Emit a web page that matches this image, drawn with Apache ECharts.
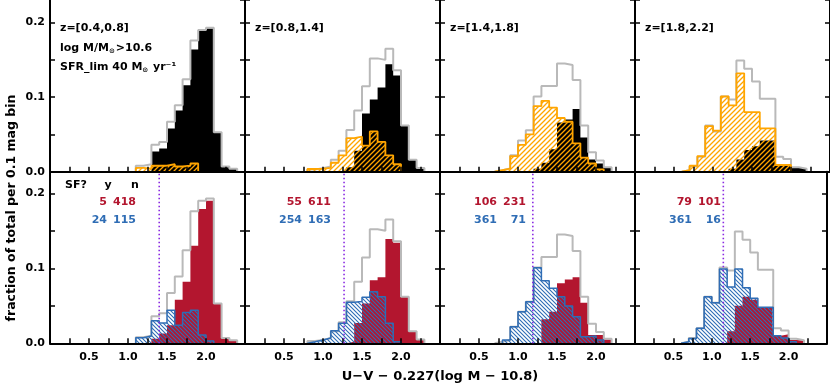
<!DOCTYPE html>
<html>
<head>
<meta charset="utf-8">
<script src="https://cdn.jsdelivr.net/npm/echarts@6/dist/echarts.min.js"></script>
<style>
html, body { margin: 0; padding: 0; background: #fff; }
#main { width: 830px; height: 384px; }
</style>
</head>
<body>
<div id="main"></div>
<script>
// left edges of the 0.1 mag bins (0.6 ... 2.4)
var bins = [0.6, 0.7, 0.8, 0.9, 1.0, 1.1, 1.2, 1.3, 1.4, 1.5, 1.6, 1.7, 1.8, 1.9, 2.0, 2.1, 2.2, 2.3, 2.4];

var zLabels = ['z=[0.4,0.8]', 'z=[0.8,1.4]', 'z=[1.4,1.8]', 'z=[1.8,2.2]'];
var xTickLabels = [0.5, 1.0, 1.5, 2.0];
var yTickLabels = [0.0, 0.1, 0.2];

// grey: all galaxies
var total1 = [0, 0, 0, 0, 0, 0.008, 0.010, 0.036, 0.040, 0.067, 0.089, 0.124, 0.176, 0.190, 0.193, 0.053, 0.007, 0.004, 0];
var total2 = [0, 0, 0.003, 0.0045, 0.007, 0.016, 0.028, 0.056, 0.082, 0.1145, 0.152, 0.150, 0.165, 0.136, 0.062, 0.016, 0.005, 0, 0];
var total3 = [0, 0.002, 0.0044, 0.022, 0.042, 0.0555, 0.101, 0.115, 0.115, 0.145, 0.143, 0.123, 0.062, 0.026, 0.015, 0.006, 0, 0, 0];
var total4 = [0.002, 0.007, 0.020, 0.062, 0.054, 0.101, 0.097, 0.149, 0.138, 0.121, 0.098, 0.098, 0.020, 0.017, 0.006, 0.004, 0, 0, 0];

// top row: black = quiescent, orange = above SFR limit
var black1 = [0, 0, 0, 0, 0, 0, 0, 0.027, 0.031, 0.058, 0.082, 0.116, 0.164, 0.189, 0.192, 0.053, 0.007, 0.004, 0];
var black2 = [0, 0, 0, 0, 0, 0, 0.002, 0.006, 0.028, 0.078, 0.097, 0.113, 0.144, 0.129, 0.062, 0.016, 0.005, 0, 0];
var black3 = [0, 0, 0, 0, 0, 0, 0.004, 0.012, 0.030, 0.066, 0.070, 0.084, 0.046, 0.0165, 0.011, 0.006, 0, 0, 0];
var black4 = [0, 0, 0, 0, 0, 0, 0.004, 0.0165, 0.029, 0.034, 0.042, 0.042, 0.010, 0.008, 0.005, 0.005, 0, 0, 0];

var orange1 = [0, 0, 0, 0, 0, 0.005, 0.004, 0.008, 0.008, 0.010, 0.007, 0.008, 0.011, 0, 0, 0, 0, 0, 0];
var orange2 = [0, 0, 0.0036, 0.004, 0.005, 0.012, 0.022, 0.045, 0.047, 0.035, 0.054, 0.040, 0.022, 0.010, 0, 0, 0, 0, 0];
var orange3 = [0, 0.002, 0.004, 0.021, 0.036, 0.050, 0.088, 0.095, 0.086, 0.072, 0.067, 0.038, 0.019, 0.011, 0.003, 0, 0, 0, 0];
var orange4 = [0.002, 0.008, 0.021, 0.061, 0.055, 0.101, 0.089, 0.132, 0.080, 0.080, 0.058, 0.058, 0.009, 0.009, 0, 0, 0, 0, 0];

// bottom row: red = UVJ quiescent, blue = UVJ star forming
var red1 = [0, 0, 0, 0, 0, 0, 0, 0.006, 0.013, 0.024, 0.058, 0.082, 0.130, 0.179, 0.190, 0.053, 0.007, 0.004, 0];
var red2 = [0, 0, 0, 0, 0, 0, 0, 0.002, 0.027, 0.053, 0.084, 0.088, 0.139, 0.134, 0.062, 0.016, 0.005, 0, 0];
var red3 = [0, 0, 0, 0, 0, 0, 0, 0.032, 0.042, 0.080, 0.085, 0.088, 0.054, 0.011, 0.011, 0.005, 0, 0, 0];
var red4 = [0, 0, 0, 0, 0, 0, 0.016, 0.050, 0.062, 0.058, 0.048, 0.048, 0.010, 0.012, 0.0045, 0.0036, 0, 0, 0];

var blue1 = [0, 0, 0, 0, 0, 0.0075, 0.0097, 0.030, 0.027, 0.044, 0.024, 0.041, 0.044, 0.011, 0.003, 0, 0, 0, 0];
var blue2 = [0, 0, 0.002, 0.0044, 0.007, 0.0168, 0.0267, 0.0547, 0.0556, 0.0613, 0.0689, 0.0622, 0.0267, 0.002, 0, 0, 0, 0, 0];
var blue3 = [0, 0, 0.0044, 0.022, 0.042, 0.0555, 0.1008, 0.0835, 0.0733, 0.0622, 0.0497, 0.0355, 0.0089, 0.0097, 0.0044, 0, 0, 0, 0];
var blue4 = [0.002, 0.0065, 0.020, 0.062, 0.054, 0.099, 0.075, 0.099, 0.074, 0.060, 0.048, 0.048, 0.010, 0.007, 0.002, 0, 0, 0, 0];

// dotted colour cut per redshift bin
var cutUV = [1.40, 1.27, 1.19, 1.15];

// SF? y / n counts
var redY = [5, 55, 106, 79];
var redN = [418, 611, 231, 101];
var blueY = [24, 254, 361, 361];
var blueN = [115, 163, 71, 16];

var totals = [total1, total2, total3, total4];
var blacks = [black1, black2, black3, black4];
var oranges = [orange1, orange2, orange3, orange4];
var reds = [red1, red2, red3, red4];
var blues = [blue1, blue2, blue3, blue4];

var FONT = '"DejaVu Sans", sans-serif';
var GREY = '#b9b9b9', ORANGE = '#ffa500', RED = '#b3162f', BLUE = '#2f6db5', PURPLE = '#8a2be2';

var panelLeft = 50, panelW = 195;
var rowTop = [-1, 171.7], rowH = [172.7, 171.6], rowMax = [0.2303, 0.2288];

function hatch(color, size, dir, lw) {
	var c = document.createElement('canvas');
	c.width = size; c.height = size;
	var g = c.getContext('2d');
	g.strokeStyle = color;
	g.lineWidth = lw;
	g.beginPath();
	if (dir > 0) {
		g.moveTo(-1, size + 1); g.lineTo(size + 1, -1);
		g.moveTo(-1, 1); g.lineTo(1, -1);
		g.moveTo(size - 1, size + 1); g.lineTo(size + 1, size - 1);
	} else {
		g.moveTo(-1, -1); g.lineTo(size + 1, size + 1);
		g.moveTo(size - 1, -1); g.lineTo(size + 1, 1);
		g.moveTo(-1, size - 1); g.lineTo(1, size + 1);
	}
	g.stroke();
	return { image: c, repeat: 'repeat' };
}

// outline of a histogram, from first to last non empty bin
function steps(vals) {
	var a = 0, b = vals.length - 1;
	while (a < b && !vals[a]) a++;
	while (b > a && !vals[b]) b--;
	var pts = [[bins[a], 0]];
	for (var i = a; i <= b; i++) {
		pts.push([bins[i], vals[i]]);
		pts.push([bins[i] + 0.1, vals[i]]);
	}
	pts.push([bins[b] + 0.1, 0]);
	return pts;
}

function histo(gi, vals, line, area, z) {
	var s = {
		type: 'line',
		xAxisIndex: gi,
		yAxisIndex: gi * 2,
		data: steps(vals),
		symbol: 'none',
		silent: true,
		z: z,
		lineStyle: line
	};
	if (area) s.areaStyle = area;
	return s;
}

function isOne(v, list) {
	for (var i = 0; i < list.length; i++) {
		if (Math.abs(v - list[i]) < 1e-6) return true;
	}
	return false;
}

var orangeHatch = hatch(ORANGE, 5, 1, 1.3);
var blueHatch = hatch(BLUE, 4, -1, 1.1);

var grids = [], xAxes = [], yAxes = [], series = [];
for (var r = 0; r < 2; r++) {
	for (var c = 0; c < 4; c++) {
		var gi = r * 4 + c;
		grids.push({ left: panelLeft + c * panelW, top: rowTop[r], width: panelW, height: rowH[r] });
		xAxes.push({
			type: 'value', gridIndex: gi, min: 0, max: 2.5, interval: 0.25, z: 5,
			axisLine: { onZero: false, lineStyle: { color: '#000', width: 2 } },
			axisTick: { inside: true, length: 5, lineStyle: { color: '#000', width: 1.5 } },
			axisLabel: {
				show: r == 1, margin: 8, color: '#000', fontSize: 11, fontWeight: 'bold', fontFamily: FONT,
				formatter: function (v) { return isOne(v, xTickLabels) ? v.toFixed(1) : ''; }
			},
			splitLine: { show: false }
		});
		yAxes.push({
			type: 'value', gridIndex: gi, min: 0, max: rowMax[r], interval: 0.05, z: 5,
			axisLine: { show: true, lineStyle: { color: '#000', width: 2 } },
			axisTick: { show: true, inside: true, length: 5, lineStyle: { color: '#000', width: 1.5 } },
			axisLabel: {
				show: c == 0, margin: 5, color: '#000', fontSize: 11, fontWeight: 'bold', fontFamily: FONT,
				showMinLabel: true, showMaxLabel: false,
				formatter: function (v) { return isOne(v, yTickLabels) ? v.toFixed(1) : ''; }
			},
			splitLine: { show: false }
		});
		yAxes.push({
			type: 'value', gridIndex: gi, min: 0, max: rowMax[r], interval: 0.05, position: 'right', z: 5,
			axisLine: { show: true, lineStyle: { color: '#000', width: 2 } },
			axisTick: { show: true, inside: true, length: 5, lineStyle: { color: '#000', width: 1.5 } },
			axisLabel: { show: false },
			splitLine: { show: false }
		});

		if (r == 0) {
			series.push(histo(gi, blacks[c], { width: 0, color: '#000' }, { color: '#000', opacity: 1 }, 2));
			series.push(histo(gi, totals[c], { width: 2, color: GREY }, null, 3));
			series.push(histo(gi, oranges[c], { width: 1.8, color: ORANGE }, { color: orangeHatch, opacity: 1 }, 4));
		} else {
			series.push(histo(gi, reds[c], { width: 0, color: RED }, { color: RED, opacity: 1 }, 2));
			series.push(histo(gi, totals[c], { width: 2, color: GREY }, null, 3));
			series.push(histo(gi, blues[c], { width: 1.5, color: BLUE }, { color: blueHatch, opacity: 1 }, 4));
			series.push({
				type: 'line', xAxisIndex: gi, yAxisIndex: gi * 2, symbol: 'none', silent: true, z: 6,
				data: [[cutUV[c], 0], [cutUV[c], rowMax[r]]],
				lineStyle: { color: PURPLE, width: 1.6, type: [1.6, 2.4] }
			});
		}
	}
}

function txt(x, y, s, fill, align, extra) {
	var st = {
		text: s, fill: fill || '#000', fontSize: 11, fontWeight: 'bold', fontFamily: FONT,
		textAlign: align || 'left', textVerticalAlign: 'middle'
	};
	if (extra) for (var k in extra) st[k] = extra[k];
	return { type: 'text', x: x, y: y, z: 20, silent: true, style: st };
}

var sunRich = {
	s: { fontSize: 7, fontWeight: 'bold', fontFamily: FONT, padding: [7, 1, 0, 0] }
};

var graphics = [];
for (var c = 0; c < 4; c++) {
	var L = panelLeft + c * panelW;
	graphics.push(txt(L + 10, 28, zLabels[c]));
	graphics.push(txt(L + 57, 202, String(redY[c]), RED, 'right'));
	graphics.push(txt(L + 86, 202, String(redN[c]), RED, 'right'));
	graphics.push(txt(L + 57, 220, String(blueY[c]), BLUE, 'right'));
	graphics.push(txt(L + 86, 220, String(blueN[c]), BLUE, 'right'));
}
graphics.push(txt(60, 48, 'log M/M{s|⊙}>10.6', '#000', 'left', { rich: sunRich }));
graphics.push(txt(60, 67, 'SFR_lim 40 M{s|⊙} yr⁻¹', '#000', 'left', { rich: sunRich }));
graphics.push(txt(65, 185, 'SF?'));
graphics.push(txt(108, 185, 'y', '#000', 'center'));
graphics.push(txt(135, 185, 'n', '#000', 'center'));
graphics.push(txt(440, 377, 'U−V − 0.227(log M − 10.8)', '#000', 'center', { fontSize: 13 }));
var yName = txt(12, 208, 'fraction of total per 0.1 mag bin', '#000', 'center', { fontSize: 12.5 });
yName.rotation = Math.PI / 2;
graphics.push(yName);

var myChart = echarts.init(document.getElementById('main'), null, { renderer: 'canvas' });
myChart.setOption({
	animation: false,
	backgroundColor: '#fff',
	grid: grids,
	xAxis: xAxes,
	yAxis: yAxes,
	series: series,
	graphic: graphics
});
</script>
</body>
</html>
